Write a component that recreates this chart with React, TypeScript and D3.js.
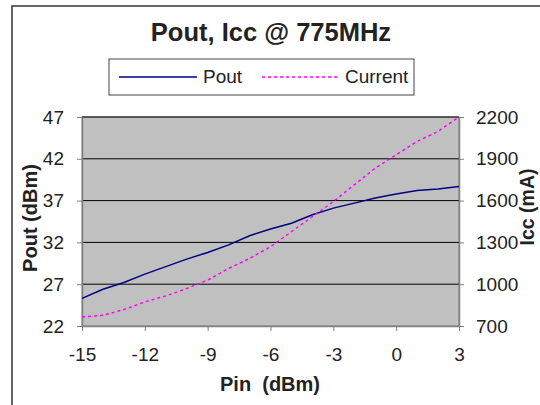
import { useEffect, useRef } from "react";
import * as d3 from "d3";

const pin = [-15, -14, -13, -12, -11, -10, -9, -8, -7, -6, -5, -4, -3, -2, -1, 0, 1, 2, 3];
const pout = [25.3, 26.4, 27.2, 28.2, 29.1, 30.0, 30.8, 31.7, 32.8, 33.6, 34.3, 35.3, 36.1, 36.7, 37.3, 37.8, 38.2, 38.4, 38.7];
const current = [765, 777, 818, 873, 916, 969, 1029, 1113, 1185, 1269, 1377, 1485, 1593, 1713, 1833, 1929, 2025, 2097, 2200];
const xTicks = [-15, -12, -9, -6, -3, 0, 3];
const poutTicks = [22, 27, 32, 37, 42, 47];
const iccTicks = [700, 1000, 1300, 1600, 1900, 2200];

const FONT = "'Liberation Sans', Arial, sans-serif";

const App = () => {
  const svgRef = useRef<SVGSVGElement>(null);
  const W = 540;
  const H = 405;
  const margin = { top: 117, right: 81, bottom: 79, left: 82 };

  useEffect(() => {
    const svg = d3.select(svgRef.current);
    svg.selectAll("*").remove();

    const x = d3.scaleLinear().domain([-15, 3]).range([margin.left, W - margin.right]);
    const yL = d3.scaleLinear().domain([22, 47]).range([H - margin.bottom, margin.top]);
    const yR = d3.scaleLinear().domain([700, 2200]).range([H - margin.bottom, margin.top]);

    svg.append("rect").attr("width", W).attr("height", H).attr("fill", "#ffffff");

    // outer chart border (runs off the right/bottom edges)
    svg.append("rect")
      .attr("x", 12).attr("y", 6)
      .attr("width", W).attr("height", H)
      .attr("fill", "none").attr("stroke", "#333").attr("stroke-width", 1.5);

    // plot area
    svg.append("rect")
      .attr("x", margin.left).attr("y", margin.top)
      .attr("width", W - margin.right - margin.left)
      .attr("height", H - margin.bottom - margin.top)
      .attr("fill", "#c0c0c0")
      .attr("stroke", "#808080");

    // gridlines
    svg.append("g")
      .selectAll("line")
      .data(poutTicks.slice(1))
      .join("line")
      .attr("x1", margin.left).attr("x2", W - margin.right)
      .attr("y1", d => yL(d)).attr("y2", d => yL(d))
      .attr("stroke", "#000").attr("stroke-width", 1);

    const styleAxis = (g: any) => {
      g.select(".domain").attr("stroke", "#808080").attr("stroke-width", 1.5);
      g.selectAll(".tick line").attr("stroke", "#808080");
      g.selectAll("text").attr("font-family", FONT).attr("font-size", 19).attr("fill", "#222");
    };
    const fmt = (d: any) => `${d}`;

    svg.append("g")
      .attr("transform", `translate(0,${H - margin.bottom})`)
      .call(d3.axisBottom(x).tickValues(xTicks).tickFormat(fmt).tickSize(5).tickPadding(17).tickSizeOuter(0))
      .call(styleAxis);

    svg.append("g")
      .attr("transform", `translate(${margin.left},0)`)
      .call(d3.axisLeft(yL).tickValues(poutTicks).tickFormat(fmt).tickSize(5).tickPadding(13).tickSizeOuter(0))
      .call(styleAxis);

    svg.append("g")
      .attr("transform", `translate(${W - margin.right},0)`)
      .call(d3.axisRight(yR).tickValues(iccTicks).tickFormat(fmt).tickSize(5).tickPadding(12).tickSizeOuter(0))
      .call(styleAxis);

    // series
    const linePout = d3.line<number>().x((d, i) => x(pin[i])).y(d => yL(d));
    const lineIcc = d3.line<number>().x((d, i) => x(pin[i])).y(d => yR(d));

    svg.append("path")
      .datum(pout)
      .attr("d", linePout)
      .attr("fill", "none")
      .attr("stroke", "#000080")
      .attr("stroke-width", 1.5);

    svg.append("path")
      .datum(current)
      .attr("d", lineIcc)
      .attr("fill", "none")
      .attr("stroke", "#ff00ff")
      .attr("stroke-width", 1.5)
      .attr("stroke-dasharray", "3 3");

    // title
    svg.append("text")
      .attr("x", 271).attr("y", 41)
      .attr("text-anchor", "middle")
      .attr("font-family", FONT).attr("font-weight", "bold").attr("font-size", 25.5)
      .attr("fill", "#222")
      .text("Pout, Icc @ 775MHz");

    // legend
    const lg = svg.append("g");
    lg.append("rect")
      .attr("x", 109).attr("y", 59).attr("width", 305).attr("height", 36)
      .attr("fill", "#fff").attr("stroke", "#444");
    lg.append("line")
      .attr("x1", 119).attr("x2", 197).attr("y1", 77).attr("y2", 77)
      .attr("stroke", "#000080").attr("stroke-width", 1.5);
    lg.append("text")
      .attr("x", 203).attr("y", 83)
      .attr("font-family", FONT).attr("font-size", 19).attr("fill", "#222")
      .text("Pout");
    lg.append("line")
      .attr("x1", 262).attr("x2", 340).attr("y1", 77).attr("y2", 77)
      .attr("stroke", "#ff00ff").attr("stroke-width", 1.5).attr("stroke-dasharray", "3 3");
    lg.append("text")
      .attr("x", 345).attr("y", 83)
      .attr("font-family", FONT).attr("font-size", 19).attr("fill", "#222")
      .text("Current");

    // axis titles
    svg.append("text")
      .attr("transform", "translate(37,218) rotate(-90)")
      .attr("text-anchor", "middle")
      .attr("font-family", FONT).attr("font-weight", "bold").attr("font-size", 20)
      .attr("fill", "#222")
      .text("Pout (dBm)");

    svg.append("text")
      .attr("transform", "translate(534,207) rotate(-90)")
      .attr("text-anchor", "middle")
      .attr("font-family", FONT).attr("font-weight", "bold").attr("font-size", 19.5)
      .attr("fill", "#222")
      .text("Icc (mA)");

    svg.append("text")
      .attr("x", 270).attr("y", 391)
      .attr("text-anchor", "middle")
      .attr("font-family", FONT).attr("font-weight", "bold").attr("font-size", 20)
      .attr("fill", "#222")
      .attr("xml:space", "preserve")
      .style("white-space", "pre")
      .text("Pin  (dBm)");
  }, []);

  return (
    <svg
      ref={svgRef}
      width={W}
      height={H}
      style={{ position: "absolute", left: 0, top: 0 }}
    ></svg>
  );
};

export default App;
